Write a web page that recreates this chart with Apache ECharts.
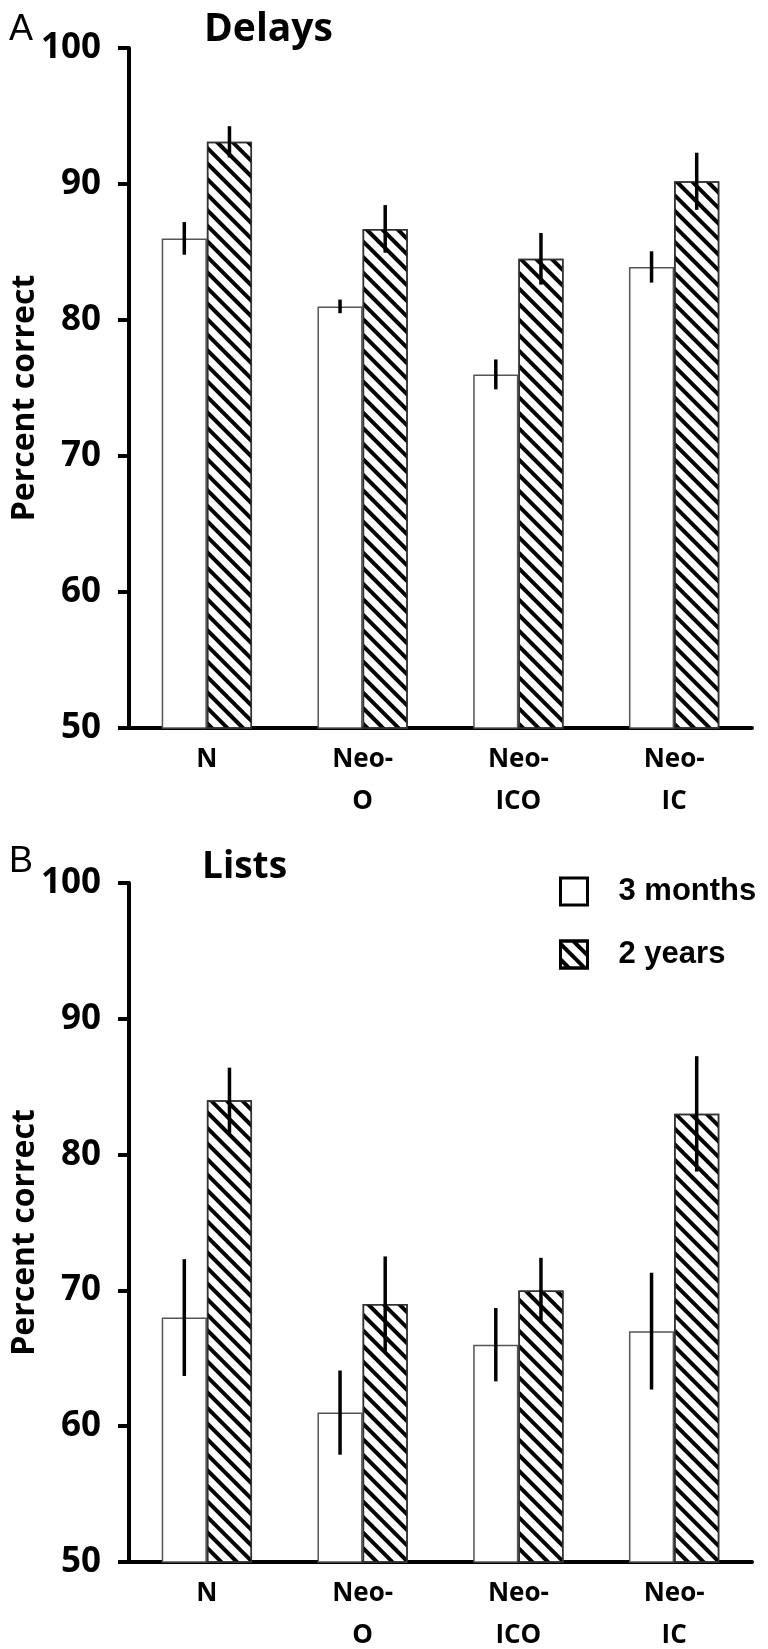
<!DOCTYPE html>
<html>
<head>
<meta charset="utf-8">
<script src="https://cdn.jsdelivr.net/npm/echarts@6/dist/echarts.min.js"></script>
<style>
html,body{margin:0;padding:0;background:#fff;}
#c{width:768px;height:1649px;}
</style>
</head>
<body>
<div id="c"></div>
<script>
// ---- data ----
var categories = ['N', 'Neo-\nO', 'Neo-\nICO', 'Neo-\nIC'];
var seriesNames = ['3 months', '2 years'];
var yTicks = [50, 60, 70, 80, 90, 100];

// Panel A: Delays
var delays3m     = [86.0, 81.0, 76.0, 83.9];
var delays3mErr  = [1.2, 0.5, 1.1, 1.15];
var delays2y     = [93.1, 86.7, 84.5, 90.2];
var delays2yErr  = [1.15, 1.75, 1.9, 2.1];

// Panel B: Lists
var lists3m      = [68.0, 61.0, 66.0, 67.0];
var lists3mErr   = [4.3, 3.1, 2.7, 4.3];
var lists2y      = [84.0, 69.0, 70.0, 83.0];
var lists2yErr   = [2.4, 3.5, 2.4, 4.25];

var CAT_GAP = 0.42;

var chart = echarts.init(document.getElementById('c'), null, {renderer: 'canvas'});

var sansBold = "'Open Sans', 'Noto Sans', sans-serif";

function yAxisDef(gridIndex) {
  return {
    type: 'value', gridIndex: gridIndex,
    min: yTicks[0], max: yTicks[yTicks.length - 1], interval: 10,
    name: 'Percent correct', nameLocation: 'middle', nameRotate: 90, nameGap: 88,
    nameMoveOverlap: false,
    nameTextStyle: {fontFamily: sansBold, fontWeight: 'bold', fontSize: 32, color: '#000', padding: [0, 20, 0, 0]},
    axisLine: {show: true, lineStyle: {color: '#000', width: 4}},
    axisTick: {show: true, inside: false, length: 11, lineStyle: {color: '#000', width: 4}},
    axisLabel: {margin: 28, fontFamily: sansBold, fontWeight: 'bold', fontSize: 35, color: '#000'},
    splitLine: {show: false}
  };
}
function xAxisDef(gridIndex) {
  return {
    type: 'category', gridIndex: gridIndex, data: categories,
    axisLine: {show: true, lineStyle: {color: '#000', width: 4}},
    axisTick: {show: false},
    axisLabel: {margin: 11, fontFamily: sansBold, fontWeight: 'bold', fontSize: 26, lineHeight: 42, color: '#000', interval: 0}
  };
}

var decal = {
  symbol: 'rect', symbolSize: 1, color: '#000',
  dashArrayX: [1, 0], dashArrayY: [4, 7], rotation: Math.PI / 4
};

function barSeries(name, data, idx, hatched) {
  return {
    name: name, type: 'bar', xAxisIndex: idx, yAxisIndex: idx, data: data,
    barGap: '0%', barCategoryGap: (CAT_GAP * 100) + '%',
    itemStyle: hatched
      ? {color: '#fff', borderColor: '#333', borderWidth: 1.5, decal: decal}
      : {color: '#fff', borderColor: '#555', borderWidth: 1.5},
    emphasis: {disabled: true},
    z: 2
  };
}

function errSeries(means, errs, idx, side) {
  var d = means.map(function (m, i) { return [i, m, errs[i]]; });
  return {
    type: 'custom', xAxisIndex: idx, yAxisIndex: idx, data: d, z: 10,
    encode: {x: 0, y: 1},
    silent: true,
    renderItem: function (params, api) {
      var ci = api.value(0), m = api.value(1), e = api.value(2);
      var band = api.size([1, 0])[0];
      var barW = band * (1 - CAT_GAP) / 2;
      var top = api.coord([ci, m + e]);
      var bot = api.coord([ci, m - e]);
      var x = top[0] + side * barW / 2;
      return {
        type: 'line',
        shape: {x1: x, y1: top[1], x2: x, y2: bot[1]},
        style: {stroke: '#000', lineWidth: 3.5}
      };
    }
  };
}

chart.setOption({
  animation: false,
  backgroundColor: '#fff',
  title: [
    {text: 'A', left: 9, top: 12, padding: 0, textStyle: {fontFamily: "'Liberation Sans', Arial, sans-serif", fontWeight: 'normal', fontSize: 36, color: '#000'}},
    {text: 'Delays', left: 204, top: 10, padding: 0, textStyle: {fontFamily: sansBold, fontWeight: 'bold', fontSize: 39, color: '#000'}},
    {text: 'B', left: 9, top: 844, padding: 0, textStyle: {fontFamily: "'Liberation Sans', Arial, sans-serif", fontWeight: 'normal', fontSize: 36, color: '#000'}},
    {text: 'Lists', left: 202, top: 849, padding: 0, textStyle: {fontFamily: sansBold, fontWeight: 'bold', fontSize: 37, color: '#000'}}
  ],
  legend: {
    data: seriesNames,
    orient: 'vertical', left: 559, top: 876, padding: 0,
    itemWidth: 27, itemHeight: 27, itemGap: 32,
    icon: 'rect',
    itemStyle: {borderColor: '#000', borderWidth: 3},
    textStyle: {fontFamily: "'Liberation Sans', Arial, sans-serif", fontWeight: 'bold', fontSize: 31, color: '#000', padding: [0, 0, 0, 26]},
    selectedMode: false
  },
  grid: [
    {left: 129, top: 48, width: 623, height: 680, containLabel: false, outerBoundsMode: 'none'},
    {left: 129, top: 883, width: 623, height: 679, containLabel: false, outerBoundsMode: 'none'}
  ],
  xAxis: [xAxisDef(0), xAxisDef(1)],
  yAxis: [yAxisDef(0), yAxisDef(1)],
  series: [
    barSeries(seriesNames[0], delays3m, 0, false),
    barSeries(seriesNames[1], delays2y, 0, true),
    barSeries(seriesNames[0], lists3m, 1, false),
    barSeries(seriesNames[1], lists2y, 1, true),
    errSeries(delays3m, delays3mErr, 0, -1),
    errSeries(delays2y, delays2yErr, 0, 1),
    errSeries(lists3m, lists3mErr, 1, -1),
    errSeries(lists2y, lists2yErr, 1, 1)
  ]
});
</script>
</body>
</html>
